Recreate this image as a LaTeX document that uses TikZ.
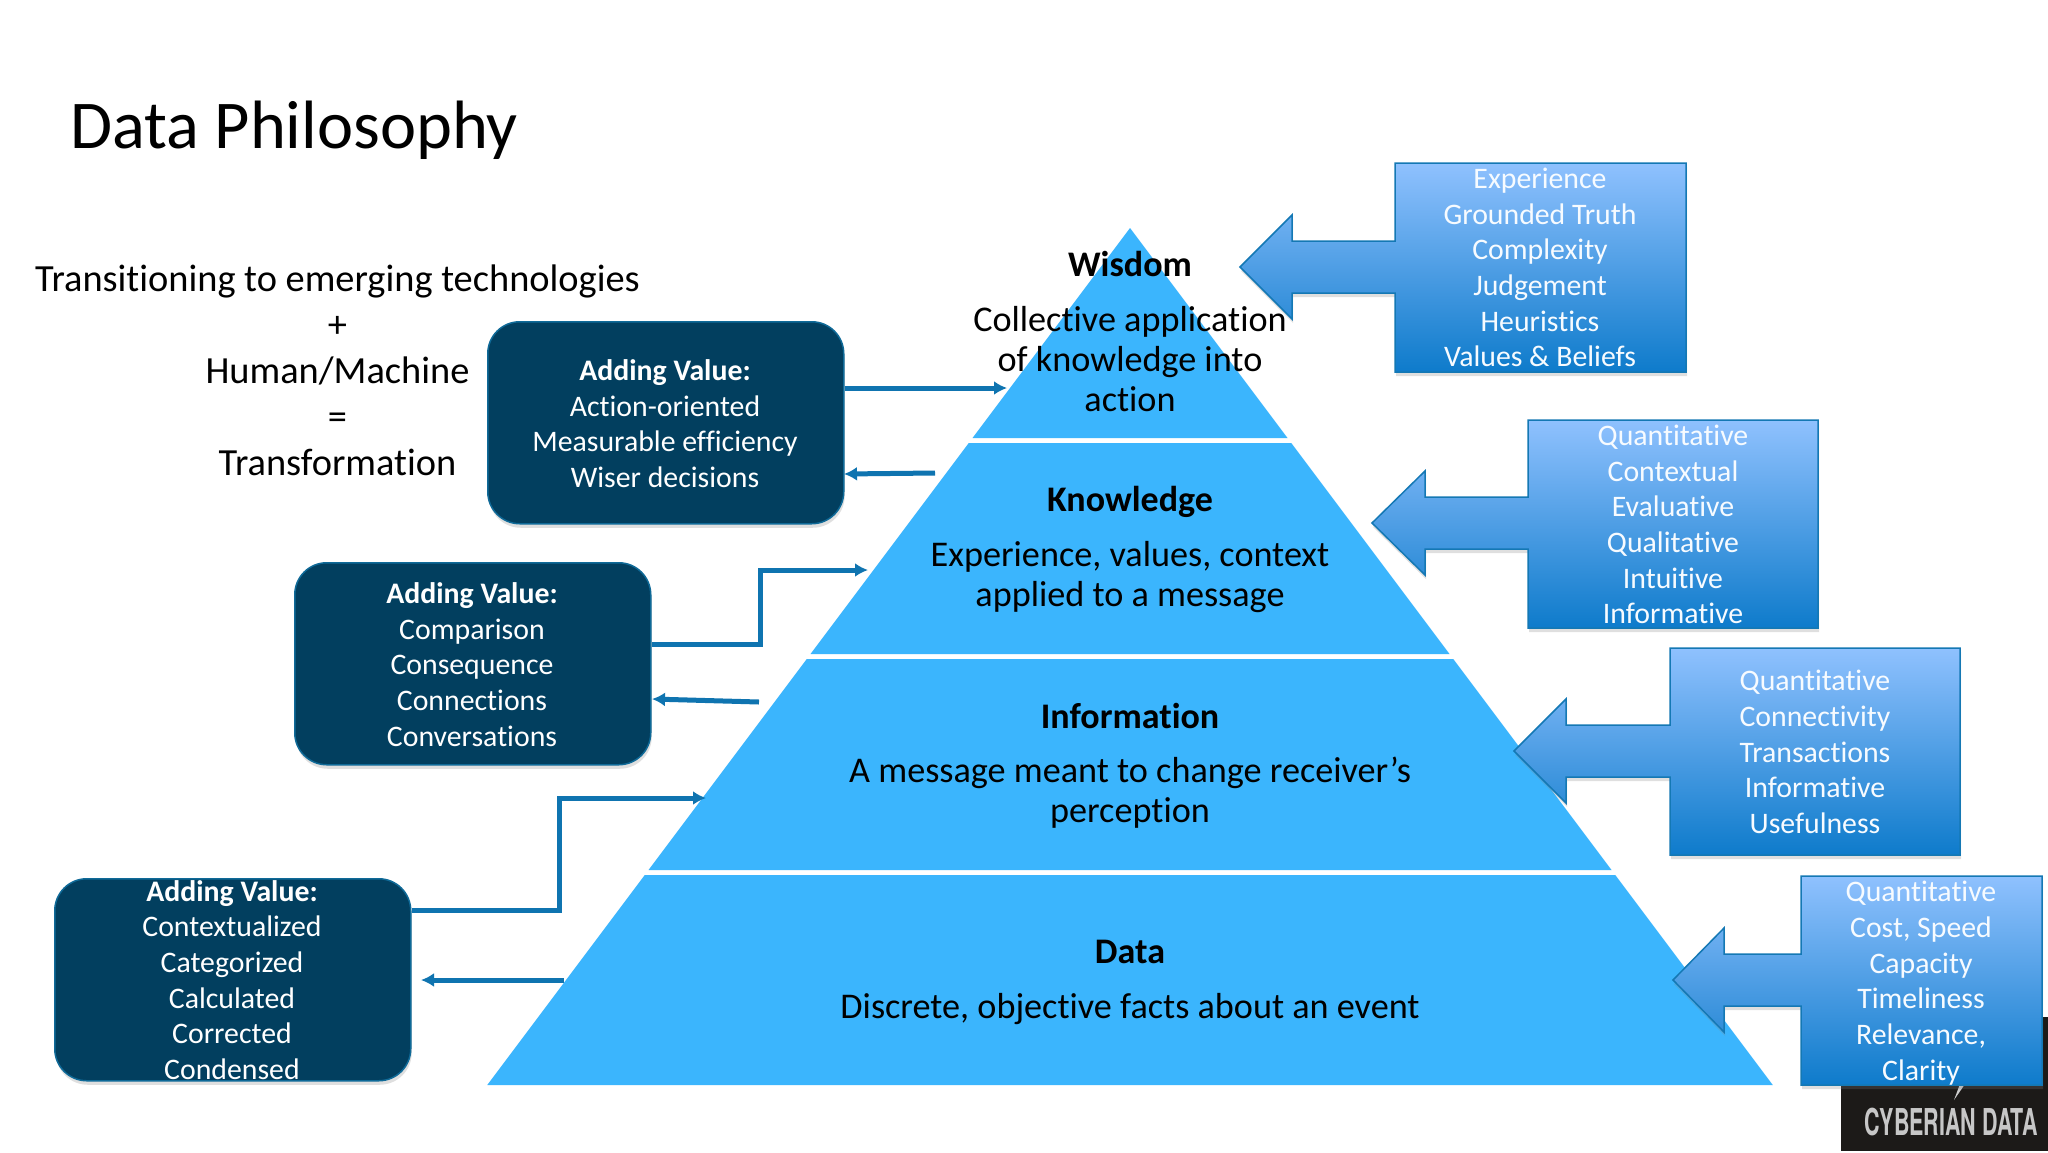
\documentclass[tikz,border=0pt]{standalone}
\usepackage{fontspec}
\usepackage{graphicx}
\setmainfont{Carlito}[Ligatures=NoCommon]
\newfontfamily\logofont{TeX Gyre Heros}
\usetikzlibrary{arrows.meta,shadows}
\definecolor{pyr}{HTML}{3BB5FD}
\definecolor{darkbox}{HTML}{023F5F}
\definecolor{darkedge}{HTML}{0F6A98}
\definecolor{conn}{HTML}{0F74B0}
\definecolor{calltop}{HTML}{8FC1FE}
\definecolor{callbot}{HTML}{0E7BCB}
\definecolor{calledge}{HTML}{1478B4}
\definecolor{logobg}{HTML}{1C1A18}
\tikzset{
  x=1pt,y=-1pt,
  band/.style={fill=pyr,draw=none},
  pyrhead/.style={font=\fontsize{36}{40}\selectfont\bfseries,text=black,anchor=center,inner sep=0pt},
  pyrbody/.style={font=\fontsize{36.2}{40}\selectfont,text=black,align=center,anchor=center,inner sep=0pt},
  valuebox/.style={draw=darkedge,line width=1.5pt,fill=darkbox,rounded corners=32pt,
     drop shadow={opacity=.25,shadow xshift=1pt,shadow yshift=-4pt}},
  valuetext/.style={font=\fontsize{29.8}{35.7}\selectfont,text=white,align=center,anchor=center,inner sep=0pt},
  callout/.style={draw=calledge,line width=1.5pt,top color=calltop,bottom color=callbot,
     drop shadow={opacity=.25,shadow xshift=1pt,shadow yshift=-4pt}},
  calltext/.style={font=\fontsize{29.8}{35.7}\selectfont,text=white!93!calltop,align=center,anchor=center,inner sep=0pt},
  link/.style={draw=conn,line width=5pt,-{Latex[length=13pt,width=14pt]}},
}
\newcommand{\valueshape}[5]{% name,x1,y1,x2,y2
  \node[valuebox,minimum width=#4pt-#2pt,minimum height=#5pt-#3pt,inner sep=0pt,anchor=north west] (#1) at (#2,#3) {};}
\newcommand{\callshape}[8]{% x1,y1,x2,y2, tipx, tipy, headx, half shaft adj
  \path[callout] (#1,#2) -- (#3,#2) -- (#3,#4) -- (#1,#4) -- (#1,#6+#8) -- (#7,#6+#8) -- (#7,#6+52) -- (#5,#6) -- (#7,#6-52) -- (#7,#6-#8) -- (#1,#6-#8) -- cycle;}
\begin{document}
\begin{tikzpicture}
\useasboundingbox (0,0) rectangle (2048,1152);
\fill[white] (0,0) rectangle (2048,1152);

% logo
\fill[logobg] (1841,1017) rectangle (2048,1151);
\node[inner sep=0pt,text=white!78!black] (logo) at (1951,1122) {\scalebox{.58}[1]{\logofont\bfseries\fontsize{37}{37}\selectfont CYBERIAN DATA}};
\fill[white!80!black] (1960,1084) -- (1965,1084) -- (1954,1100) -- cycle;

% pyramid
\path[band] (1130,228) -- (1287.5,438) -- (972.5,438) -- cycle;
\path[band] (968.75,443) -- (1291.25,443) -- (1449.5,654) -- (810.5,654) -- cycle;
\path[band] (806.75,659) -- (1453.25,659) -- (1611.5,870) -- (648.5,870) -- cycle;
\path[band] (644.75,875) -- (1615.25,875) -- (1772.75,1085) -- (487.25,1085) -- cycle;

% pyramid text
\node[pyrhead] (wisdom) at (1130,264) {Wisdom};
\node[pyrbody] (wisdomtxt) at (1130,359) {Collective application\\of knowledge into\\action};
\node[pyrhead] (knowledge) at (1130,502) {Knowledge};
\node[pyrbody] (knowledgetxt) at (1130,577.5) {Experience, values, context\\applied to a message};
\node[pyrhead] (information) at (1130,716) {Information};
\node[pyrbody] (informationtxt) at (1130,793) {A message meant to change receiver’s\\perception};
\node[pyrhead] (data) at (1130,952) {Data};
\node[pyrbody] (datatxt) at (1130,1009) {Discrete, objective facts about an event};

% title and left statement
\node[font=\fontsize{68.4}{75}\selectfont,anchor=west,inner sep=0pt] (title) at (70,130) {Data Philosophy};
\node[font=\fontsize{38.4}{46}\selectfont,align=center,inner sep=0pt] (statement) at (337.5,370.5)
  {Transitioning to emerging technologies\\+\\Human/Machine\\=\\Transformation};

% value boxes
\valueshape{boxA}{487}{321}{843}{523}
\valueshape{boxB}{294}{562}{650}{764}
\valueshape{boxC}{54}{878}{410}{1080}
\node[valuetext] (boxAtxt) at (665,423.5) {\textbf{Adding Value:}\\Action-oriented\\Measurable efficiency\\Wiser decisions};
\node[valuetext] (boxBtxt) at (472,664.5) {\textbf{Adding Value:}\\Comparison\\Consequence\\Connections\\Conversations};
\node[valuetext] (boxCtxt) at (232,980) {\textbf{Adding Value:}\\Contextualized\\Categorized\\Calculated\\Corrected\\Condensed};

% connectors
\coordinate (wisIn) at (1007,388);
\coordinate (wisOut) at (935,473);
\coordinate (knoIn) at (868,570);
\coordinate (knoOut) at (759,702);
\coordinate (infIn) at (706,798);
\coordinate (infOut) at (564,980);
\coordinate (boxAa) at (boxA.east |- wisIn);
\coordinate (boxAb) at (844,474);
\coordinate (boxBa) at (652,644);
\coordinate (boxBb) at (652,699);
\coordinate (boxCa) at (boxC.east |- 0,910);
\coordinate (boxCb) at (421,980);
\draw[link] (boxAa) -- (wisIn);
\draw[link] (wisOut) -- (boxAb);
\draw[link] (boxBa) -| (760,570) -- (knoIn);
\draw[link] (knoOut) -- (boxBb);
\draw[link] (boxCa) -| (559,798) -- (infIn);
\draw[link] (infOut) -- (boxCb);

% callouts
\callshape{1395}{163}{1686}{372}{1240}{267}{1292}{26}
\callshape{1528}{420}{1818}{628}{1372}{523}{1425}{26}
\callshape{1670}{648}{1960}{855}{1514}{751}{1566}{26}
\callshape{1801}{876}{2042}{1085}{1673}{980}{1724}{26}
\node[calltext] (callAtxt) at (1540,267.5) {Experience\\Grounded Truth\\Complexity\\Judgement\\Heuristics\\Values \& Beliefs};
\node[calltext] (callBtxt) at (1673,524.5) {Quantitative\\Contextual\\Evaluative\\Qualitative\\Intuitive\\Informative};
\node[calltext] (callCtxt) at (1815,752) {Quantitative\\Connectivity\\Transactions\\Informative\\Usefulness};
\node[calltext] (callDtxt) at (1921,983) {Quantitative\\Cost, Speed\\Capacity\\Timeliness\\Relevance,\\Clarity};
\end{tikzpicture}
\end{document}
